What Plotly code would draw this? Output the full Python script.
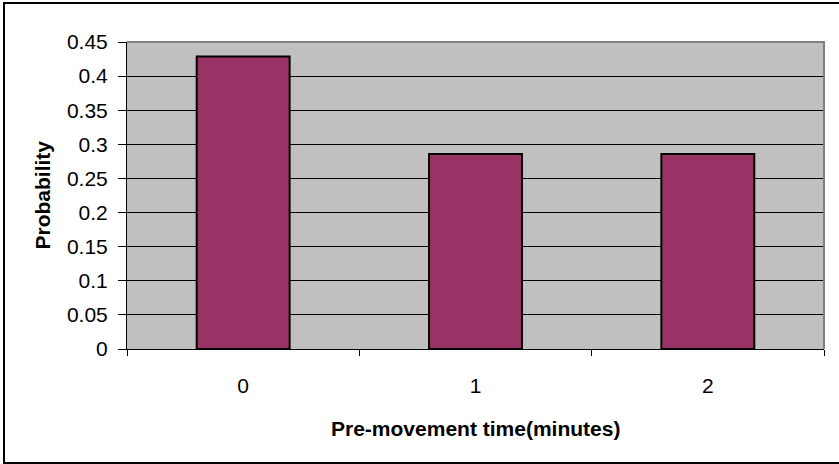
import plotly.graph_objects as go

categories = ["0", "1", "2"]
probabilities = [0.4286, 0.2857, 0.2857]
y_tick_values = [0, 0.05, 0.1, 0.15, 0.2, 0.25, 0.3, 0.35, 0.4, 0.45]
y_tick_labels = ["0", "0.05", "0.1", "0.15", "0.2", "0.25", "0.3", "0.35", "0.4", "0.45"]
x_title = "Pre-movement time(minutes)"
y_title = "Probability"

W, H = 839, 464
L, R, T, B = 127, 824, 42, 349  # plot area in pixels
pw, ph = R - L, B - T

def px(x):
    return (x - L) / pw

def py(y):
    return (B - y) / ph

font = "Liberation Sans, Arial, sans-serif"

fig = go.Figure(go.Bar(
    x=categories, y=probabilities,
    marker=dict(color="#993366", line=dict(color="black", width=2)),
    width=0.4,
))

fig.update_layout(
    width=W, height=H,
    margin=dict(l=L, r=W - R, t=T, b=H - B, pad=0),
    paper_bgcolor="white", plot_bgcolor="#C0C0C0",
    showlegend=False,
    font=dict(family=font, size=21, color="black"),
    xaxis=dict(type="category", tickson="boundaries", ticks="outside", ticklen=6,
               tickcolor="black", tickwidth=1, showline=True, linecolor="black",
               linewidth=1, showgrid=False, ticklabelstandoff=18,
               tickfont=dict(family=font, size=21, color="black")),
    yaxis=dict(range=[0, 0.45], tickvals=y_tick_values, ticktext=y_tick_labels,
               ticks="outside", ticklen=8, tickcolor="black", tickwidth=1,
               showline=True, linecolor="black", linewidth=1,
               showgrid=True, gridcolor="black", gridwidth=1, zeroline=False,
               ticklabelstandoff=6,
               tickfont=dict(family=font, size=21, color="black")),
    shapes=[
        dict(type="path", xref="paper", yref="paper",
             path="M 0,1 L 1,1 L 1,0", line=dict(color="#808080", width=2)),
        dict(type="rect", xref="paper", yref="paper",
             x0=px(4), x1=px(845), y0=py(463), y1=py(3),
             line=dict(color="black", width=2), layer="below"),
    ],
    annotations=[
        dict(text="<b>" + x_title + "</b>", xref="paper", yref="paper",
             x=0.5, y=py(428), xanchor="center", yanchor="middle",
             showarrow=False, font=dict(family=font, size=21, color="black")),
        dict(text="<b>" + y_title + "</b>", xref="paper", yref="paper",
             x=px(42), y=0.5, xanchor="center", yanchor="middle", textangle=-90,
             showarrow=False, font=dict(family=font, size=21, color="black")),
    ],
)

fig.write_html("out.html")
